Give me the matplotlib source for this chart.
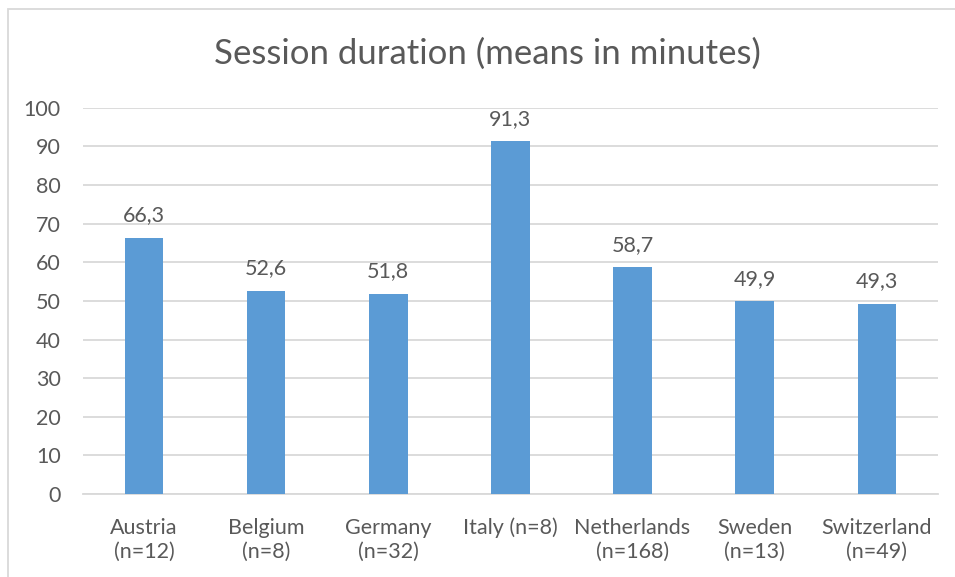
import matplotlib
matplotlib.use("Agg")
import matplotlib.pyplot as plt
from matplotlib.patches import Rectangle

countries = ["Austria", "Belgium", "Germany", "Italy", "Netherlands", "Sweden", "Switzerland"]
sizes = [12, 8, 32, 8, 168, 13, 49]
means = [66.3, 52.6, 51.8, 91.3, 58.7, 49.9, 49.3]

bar_color = "#5B9BD5"
text_color = "#595959"
grid_color = "#D9D9D9"

plt.rcParams["font.family"] = ["Lato", "DejaVu Sans"]

fig = plt.figure(figsize=(9.55, 5.77), dpi=100)
ax = fig.add_axes([0.0869, 0.1438, 0.982 - 0.0869, 0.8133 - 0.1438])

# chart frame (only top and left edges are inside the image)
fig.patches.append(Rectangle((8 / 955, -0.1), 1.2, 1 - 9 / 577 + 0.1,
                             transform=fig.transFigure, fill=False,
                             edgecolor=grid_color, linewidth=1.3))

x = range(len(countries))
ax.bar(x, means, width=0.315, color=bar_color, zorder=3)

for i, v in enumerate(means):
    ax.annotate(f"{v:.1f}".replace(".", ","), (i, v), xytext=(0, 9),
                textcoords="offset points", ha="center", va="bottom",
                fontsize=15.5, color=text_color)

ax.set_xlim(-0.5, len(countries) - 0.5)
ax.set_ylim(0, 100)
ax.set_yticks(range(0, 101, 10))
labels = []
for c, n in zip(countries, sizes):
    if c == "Italy":
        labels.append(f"{c} (n={n})")
    else:
        labels.append(f"{c}\n(n={n})")
ax.set_xticks(list(x))
ax.set_xticklabels(labels, linespacing=1.25)
ax.tick_params(axis="both", length=0, colors=text_color, labelsize=15.5)
ax.tick_params(axis="y", pad=16)
ax.tick_params(axis="x", pad=17)
ax.yaxis.grid(True, color=grid_color, linewidth=1.3, zorder=0)
for s in ax.spines.values():
    s.set_visible(False)
ax.spines["bottom"].set_visible(True)
ax.spines["bottom"].set_color(grid_color)
ax.spines["bottom"].set_linewidth(1.3)

# Italy label sits on one line, aligned with the first lines of the others
for lbl in ax.get_xticklabels():
    lbl.set_verticalalignment("top")

fig.text(0.51, 1 - 54 / 577, "Session duration (means in minutes)",
         ha="center", va="center", fontsize=25, color=text_color)

fig.savefig("out.png", dpi=100)
